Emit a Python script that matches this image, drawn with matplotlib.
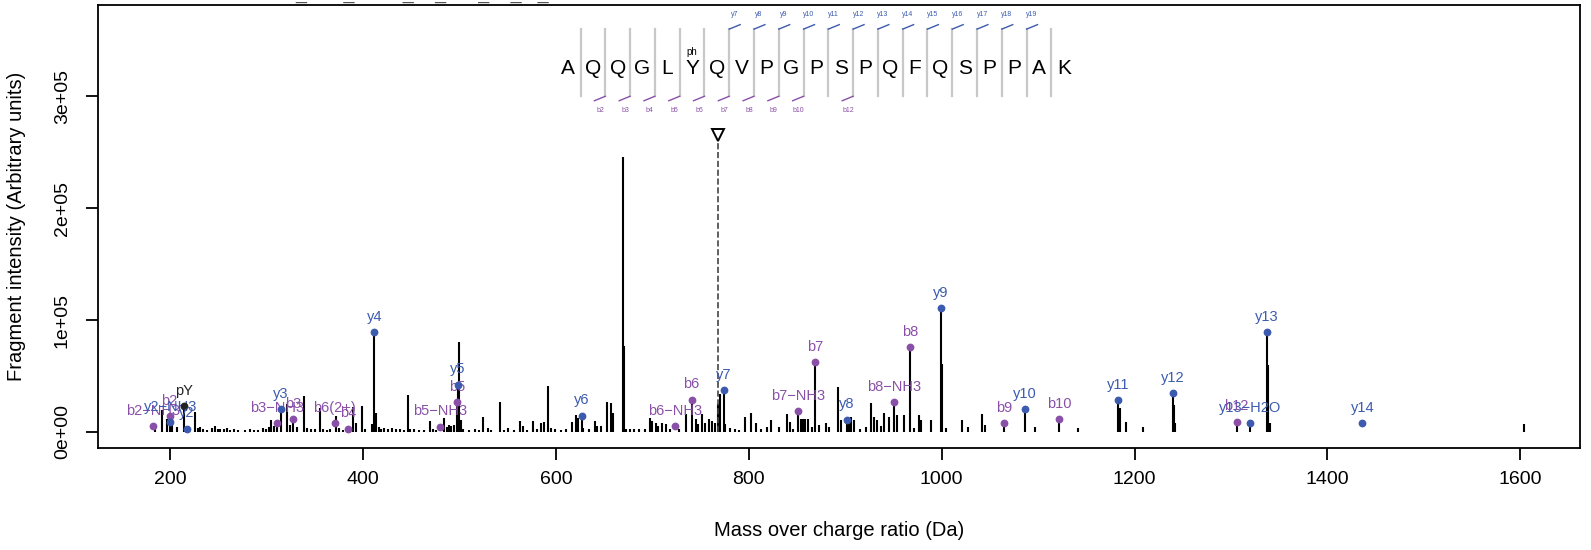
import numpy as np
import matplotlib.pyplot as plt

plt.rcParams['font.family'] = ['Liberation Sans', 'DejaVu Sans']

# spectrum peaks (m/z, intensity)
peak_mz = [184.0, 191.7, 196.8, 199.2, 201.3, 207.1, 214.4, 219.1, 225.5, 228.5,
           231.0, 234.0, 238.5, 243.0, 246.0, 249.0, 252.0, 256.0, 259.0, 262.0,
           266.0, 270.0, 277.0, 283.0, 287.0, 291.0, 296.0, 299.0,
           302.0, 304.8, 308.0, 310.4, 314.5, 320.5, 324.0, 327.6, 331.0, 338.6,
           342.0, 346.0, 350.0, 355.2, 358.0, 362.0, 366.0, 371.5, 375.0, 379.0,
           389.6, 393.0, 398.3, 402.0,
           409.2, 411.6, 413.6, 416.0, 419.0, 422.0, 426.0, 430.0, 434.0, 438.0,
           442.0, 446.5, 449.0, 453.0, 458.0, 463.0, 468.9, 472.0, 476.0, 484.3,
           487.0, 488.5, 491.0, 494.0, 497.4, 498.4, 499.2, 501.5, 504.0,
           510.0, 516.0, 520.0, 524.5, 529.8, 533.0, 541.9, 546.0, 550.0, 556.0,
           562.9, 565.9, 570.0, 576.2, 580.0, 584.6, 587.3, 591.8, 595.2, 599.0,
           605.0, 610.7, 616.5, 620.3, 622.7, 626.8, 627.9, 634.0, 640.0, 642.3,
           646.8, 653.0, 657.1, 659.5, 669.0, 670.5, 673.0, 677.0, 681.0, 686.0,
           692.5, 697.3, 700.0,
           703.5, 705.9, 710.4, 713.8, 718.0, 727.6, 734.5, 740.6, 744.8, 747.5,
           751.0, 755.0, 758.5, 762.0, 765.4, 767.8, 770.5, 773.8, 775.7, 780.9,
           786.0, 790.0,
           795.6, 802.4, 807.6, 813.0, 818.6, 823.1, 831.0, 839.2, 842.7, 846.0,
           851.3, 854.0, 856.0, 858.5, 861.0, 866.0, 868.7, 873.0, 879.8, 883.2,
           892.9, 896.0, 901.7, 903.5, 905.6, 909.0, 915.0, 921.0, 926.2, 929.6,
           933.0, 937.0, 940.0, 945.0, 950.7, 953.7, 960.6, 967.6, 970.9, 976.0,
           978.2, 988.5, 999.0, 999.8, 1004.7, 1021.2, 1027.4, 1041.8, 1044.6, 1064.9,
           1086.0, 1096.3, 1121.9, 1141.2,
           1183.0, 1184.5, 1191.0, 1209.0, 1239.9, 1241.0, 1242.2, 1305.9, 1319.3, 1337.2,
           1338.3, 1340.5, 1604.0]
peak_int = [5400, 19700, 11300, 14000, 13100, 4800, 23000, 4800, 17500, 3300,
            4200, 2500, 2200, 3500, 5200, 3000, 2400, 2800, 3300, 2000,
            2600, 2000, 2200, 2500, 2000, 1800, 3500, 2300,
            4500, 10700, 5500, 8000, 20500, 25000, 6500, 11500, 4000, 32000,
            3500, 2500, 3000, 21200, 3000, 2200, 2500, 14000, 3500, 2200,
            22600, 7700, 23300, 3000,
            7200, 89300, 17000, 4500, 3000, 3500, 2800, 3200, 2600, 2400,
            2000, 33000, 3000, 2500, 2200, 2000, 10100, 2600, 2200, 12200,
            4000, 6000, 5000, 6300, 26400, 42200, 80000, 10700, 3000,
            2000, 2500, 2200, 13700, 3500, 2000, 27100, 2200, 3500, 2000,
            9500, 5000, 2200, 9500, 3000, 8000, 9200, 41100, 3900, 2400,
            2000, 2400, 9200, 15200, 12200, 14500, 3900, 2400, 10000, 5400,
            5400, 27100, 26200, 16700, 246000, 77000, 3000, 2400, 2800, 2400,
            2400, 12800, 9800,
            8300, 5400, 8300, 6900, 2500, 2400, 15800, 28800, 11300, 6900,
            15800, 8300, 11300, 9800, 8300, 24700, 33700, 37100, 6900, 3900,
            2500, 2000,
            13100, 16700, 7700, 2500, 4200, 10700, 4200, 16100, 9200, 3000,
            18400, 11300, 11300, 11300, 11300, 4200, 62100, 6300, 7700, 4200,
            40000, 10700, 11000, 9000, 13100, 10700, 2500, 4200, 26200, 13700,
            10700, 5000, 16700, 13700, 26700, 15200, 15200, 75500, 3300, 15200,
            10700, 10700, 110400, 61000, 3300, 10700, 4800, 16100, 6300, 8200,
            20100, 4800, 11600, 3300,
            28200, 21100, 9200, 4800, 34400, 24100, 7700, 9200, 8000, 88900,
            60000, 7700, 7000]

# annotated fragment ions
ion_labels = ['b2\u2212NH3', 'b2', 'y2\u2212NH3', 'pY', 'y2', 'b3\u2212NH3', 'y3', 'b3',
              'b6(2+)', 'b4', 'y4', 'b5\u2212NH3', 'b5', 'y5', 'y6', 'b6\u2212NH3', 'b6',
              'y7', 'b7\u2212NH3', 'b7', 'y8', 'b8\u2212NH3', 'b8', 'y9', 'b9', 'y10',
              'b10', 'y11', 'y12', 'b12', 'y13\u2212H2O', 'y13', 'y14']
ion_mz = [182.2, 199.2, 199.9, 214.4, 217.2, 310.4, 314.5, 327.6,
          370.7, 384.5, 411.6, 480.1, 497.4, 498.4, 626.8, 723.7, 740.6,
          773.8, 851.3, 868.7, 901.7, 950.7, 967.6, 999.0, 1064.9, 1086.0,
          1121.9, 1183.0, 1239.9, 1305.9, 1319.3, 1337.2, 1436.2]
ion_int = [5000, 14000, 8900, 23000, 2900, 8000, 20500, 11500,
           8000, 2900, 89300, 4700, 26400, 42200, 14500, 5000, 28800,
           37100, 18400, 62100, 11000, 26700, 75500, 110400, 8200, 20100,
           11600, 28200, 34400, 9200, 8000, 88900, 8000]
ion_type = ['b', 'b', 'y', 'i', 'y', 'b', 'y', 'b',
            'b', 'b', 'y', 'b', 'b', 'y', 'y', 'b', 'b',
            'y', 'b', 'b', 'y', 'b', 'b', 'y', 'b', 'y',
            'b', 'y', 'y', 'b', 'y', 'y', 'y']

# peptide annotation
sequence = "AQQGLYQVPGPSPQFQSPPAK"
mod_site = 6
mod_label = "ph"
b_cuts = [2, 3, 4, 5, 6, 7, 8, 9, 10, 12]
y_cuts = list(range(7, 20))
precursor_mz = 768.3

colors = {'b': '#8A50A8', 'y': '#3C5BAE', 'i': '#222222'}

fig = plt.figure(figsize=(15.91, 5.5), dpi=100)
ax = fig.add_axes([0.0616, 0.1855, 0.9315, 0.8055])

ax.vlines(peak_mz, 0, peak_int, color='black', lw=1.5)

for lab, mz, it, t in zip(ion_labels, ion_mz, ion_int, ion_type):
    ax.plot(mz, it, 'o', ms=4.6, color=colors[t], zorder=3)
    ax.annotate(lab, (mz, it), xytext=(0, 11), textcoords='offset points',
                ha='center', va='center', color=colors[t], fontsize=10.5)

# precursor marker
ax.plot([precursor_mz, precursor_mz], [0, 262000], ls='--', color='#444444', lw=1.2)
ax.plot(precursor_mz, 265000, marker='v', ms=9, mfc='white', mec='black', mew=1.4)

# sequence with fragment ticks
seq_x0 = 612.6
seq_step = 25.7
y_letter = 324600
for i, aa in enumerate(sequence):
    ax.text(seq_x0 + i * seq_step, y_letter, aa, ha='center', va='center', fontsize=15)
    if i + 1 == mod_site:
        ax.text(seq_x0 + i * seq_step, 340000, mod_label, ha='center', va='center', fontsize=7)
for k in range(1, len(sequence)):
    sx = seq_x0 + (k - 0.5) * seq_step
    ax.plot([sx, sx], [300000, 360000], color='#C8C8C8', lw=1.6)
    if k in y_cuts:
        ax.plot([sx, sx + 11.3], [360000, 364000], color=colors['y'], lw=1)
        ax.text(sx + 5.3, 373000, 'y%d' % k, ha='center', va='center',
                fontsize=5, color=colors['y'])
    if k in b_cuts:
        ax.plot([sx - 11.3, sx], [296000, 300000], color=colors['b'], lw=1)
        ax.text(sx - 5.3, 287000, 'b%d' % k, ha='center', va='center',
                fontsize=5, color=colors['b'])

ax.set_xlim(125, 1662)
ax.set_ylim(-14300, 381600)
ax.set_xticks([200, 400, 600, 800, 1000, 1200, 1400, 1600])
ax.set_yticks([0, 100000, 200000, 300000])
ax.set_yticklabels(['0e+00', '1e+05', '2e+05', '3e+05'], rotation=90, va='center')
ax.tick_params(direction='out', length=8.5, width=1.3, labelsize=14)
ax.tick_params(axis='x', pad=8)
ax.tick_params(axis='y', pad=11)
for s in ax.spines.values():
    s.set_linewidth(1.3)

ax.set_xlabel('Mass over charge ratio (Da)', fontsize=14.5, va='center')
ax.xaxis.set_label_coords(0.5, -0.187)
ax.set_ylabel('Fragment intensity (Arbitrary units)', fontsize=14.5, va='center')
ax.yaxis.set_label_coords(-0.0553, 0.5)

# title mostly cut off at the top edge
fig.text(0.1854, 1 + 1 / 550,
         "_" + " " * 7 + "_" + " " * 9 + "_" + " " * 4 + "_/" + " " * 5 + "_" + " " * 4 + "_" + " " * 3 + "_",
         ha='left', va='baseline', fontsize=14, color='#555555')

fig.savefig('out.png', dpi=100)
